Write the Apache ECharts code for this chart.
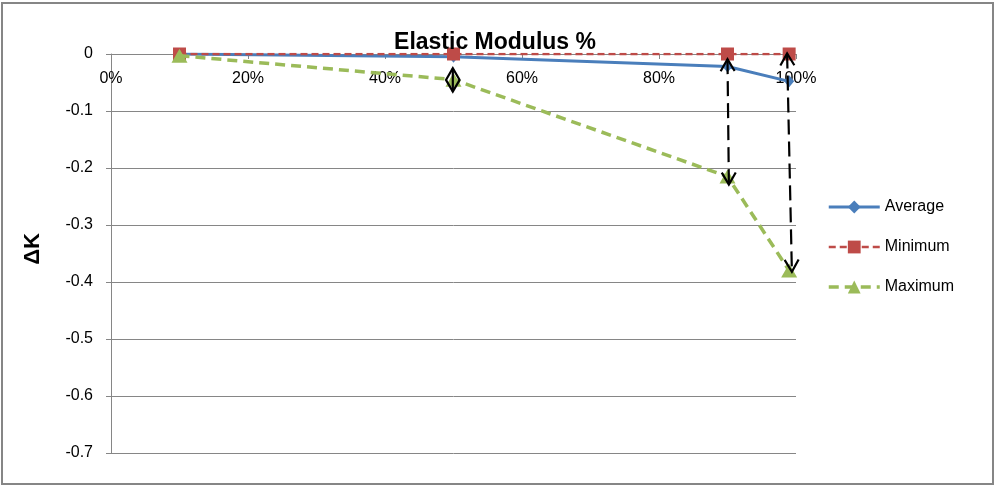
<!DOCTYPE html>
<html>
<head>
<meta charset="utf-8">
<script src="https://cdn.jsdelivr.net/npm/echarts@6/dist/echarts.min.js"></script>
<style>
  html, body { margin: 0; padding: 0; background: #fff; }
  #chart { width: 997px; height: 487px; }
</style>
</head>
<body>
<div id="chart"></div>
<script>
// Elastic modulus fraction (x) and change in K for each statistic
const modulus = [0.10, 0.50, 0.90, 0.99];
const averageK = [0.000, -0.005, -0.022, -0.048];
const minimumK = [0.000, 0.000, 0.000, 0.000];
const maximumK = [-0.003, -0.045, -0.215, -0.380];

// Spread arrows between minimum and maximum (data units)
const arrowXTop = [0.499, 0.90, 0.987];
const arrowXBottom = [0.499, 0.902, 0.994];
const arrowTop = [-0.025, -0.009, 0.001];
const arrowBottom = [-0.066, -0.229, -0.382];
const arrowDashed = [0, 1, 1];

const FONT = '"Liberation Sans", Arial, sans-serif';
const GRID = '#868686';

const pairs = (xs, ys) => xs.map((x, i) => [x, ys[i]]);

const arrowData = arrowTop.map((t, i) => [arrowXTop[i], t, arrowXBottom[i], arrowBottom[i], arrowDashed[i]]);

function renderArrow(params, api) {
  const p1 = api.coord([api.value(0), api.value(1)]);
  const p2 = api.coord([api.value(2), api.value(3)]);
  const dashed = api.value(4) === 1;
  const dx = p2[0] - p1[0], dy = p2[1] - p1[1];
  const len = Math.sqrt(dx * dx + dy * dy);
  const ux = dx / len, uy = dy / len;      // unit vector top -> bottom
  const nx = -uy, ny = ux;                 // normal
  const hl = 12, hw = 7;
  const head = (p, dir) => [
    [p[0] + dir * ux * hl + nx * hw, p[1] + dir * uy * hl + ny * hw],
    [p[0], p[1]],
    [p[0] + dir * ux * hl - nx * hw, p[1] + dir * uy * hl - ny * hw]
  ];
  const style = { stroke: '#000', lineWidth: 2.2, fill: null };
  return {
    type: 'group',
    children: [
      { type: 'line', shape: { x1: p1[0], y1: p1[1], x2: p2[0], y2: p2[1] },
        style: Object.assign({}, style, dashed ? { lineDash: [15, 7] } : {}) },
      { type: 'polyline', shape: { points: head(p1, 1) }, style: style },
      { type: 'polyline', shape: { points: head(p2, -1) }, style: style }
    ]
  };
}

const chart = echarts.init(document.getElementById('chart'), null, { renderer: 'canvas' });

chart.setOption({
  animation: false,
  backgroundColor: '#fff',
  textStyle: { fontFamily: FONT },
  grid: { left: 111, right: 201, top: 54, bottom: 34, containLabel: false },
  title: {
    text: 'Elastic Modulus %',
    left: 490, top: 26, textAlign: 'center',
    textStyle: { fontFamily: FONT, fontSize: 23, fontWeight: 'bold', color: '#000' }
  },
  legend: {
    orient: 'vertical',
    left: 822, top: 194,
    itemWidth: 51, itemHeight: 16, itemGap: 24,
    textStyle: { fontFamily: FONT, fontSize: 16, color: '#000' },
    lineStyle: { width: 'inherit' },
    data: ['Average', 'Minimum', 'Maximum']
  },
  xAxis: {
    type: 'value', position: 'top',
    min: 0, max: 1, interval: 0.2,
    axisLine: { show: true, onZero: false, lineStyle: { color: GRID, width: 1 } },
    axisTick: { show: true, inside: true, length: 5, lineStyle: { color: GRID } },
    axisLabel: {
      inside: true, margin: 17,
      fontFamily: FONT, fontSize: 16, color: '#000',
      formatter: v => Math.round(v * 100) + '%'
    },
    splitLine: { show: false }
  },
  yAxis: {
    type: 'value',
    min: -0.7, max: 0, interval: 0.1,
    axisLine: { show: true, lineStyle: { color: GRID, width: 1 } },
    axisTick: { show: true, length: 5, lineStyle: { color: GRID } },
    axisLabel: {
      margin: 18, fontFamily: FONT, fontSize: 16, color: '#000',
      formatter: v => {
        const r = Math.round(v * 10) / 10;
        return r === 0 ? '0' : r.toFixed(1);
      }
    },
    splitLine: { show: true, lineStyle: { color: GRID, width: 1 } }
  },
  graphic: [
    { type: 'rect', shape: { x: 2, y: 3, width: 991, height: 481 },
      style: { fill: null, stroke: GRID, lineWidth: 2 }, silent: true },
    { type: 'text', x: 33, y: 249, rotation: Math.PI / 2,
      style: { text: 'ΔK', fontFamily: FONT, fontSize: 22, fontWeight: 'bold',
               fill: '#000', align: 'center', verticalAlign: 'middle' } }
  ],
  series: [
    {
      name: 'Average', type: 'line', data: pairs(modulus, averageK),
      symbol: 'diamond', symbolSize: [10, 12],
      itemStyle: { color: '#4A7EBB' },
      lineStyle: { color: '#4A7EBB', width: 3 },
      z: 3
    },
    {
      name: 'Minimum', type: 'line', data: pairs(modulus, minimumK),
      symbol: 'rect', symbolSize: 13,
      itemStyle: { color: '#BE4B48' },
      lineStyle: { color: '#BE4B48', width: 2.5, type: [7, 4] },
      z: 4
    },
    {
      name: 'Maximum', type: 'line', data: pairs(modulus, maximumK),
      symbol: 'triangle', symbolSize: [16, 14],
      itemStyle: { color: '#9BBB59' },
      lineStyle: { color: '#9BBB59', width: 3.5, type: [10, 6] },
      z: 5
    },
    {
      name: 'spread', type: 'custom', data: arrowData,
      renderItem: renderArrow, z: 10, silent: true,
      encode: { x: [0, 2], y: [1, 3] }
    }
  ]
});
</script>
</body>
</html>
